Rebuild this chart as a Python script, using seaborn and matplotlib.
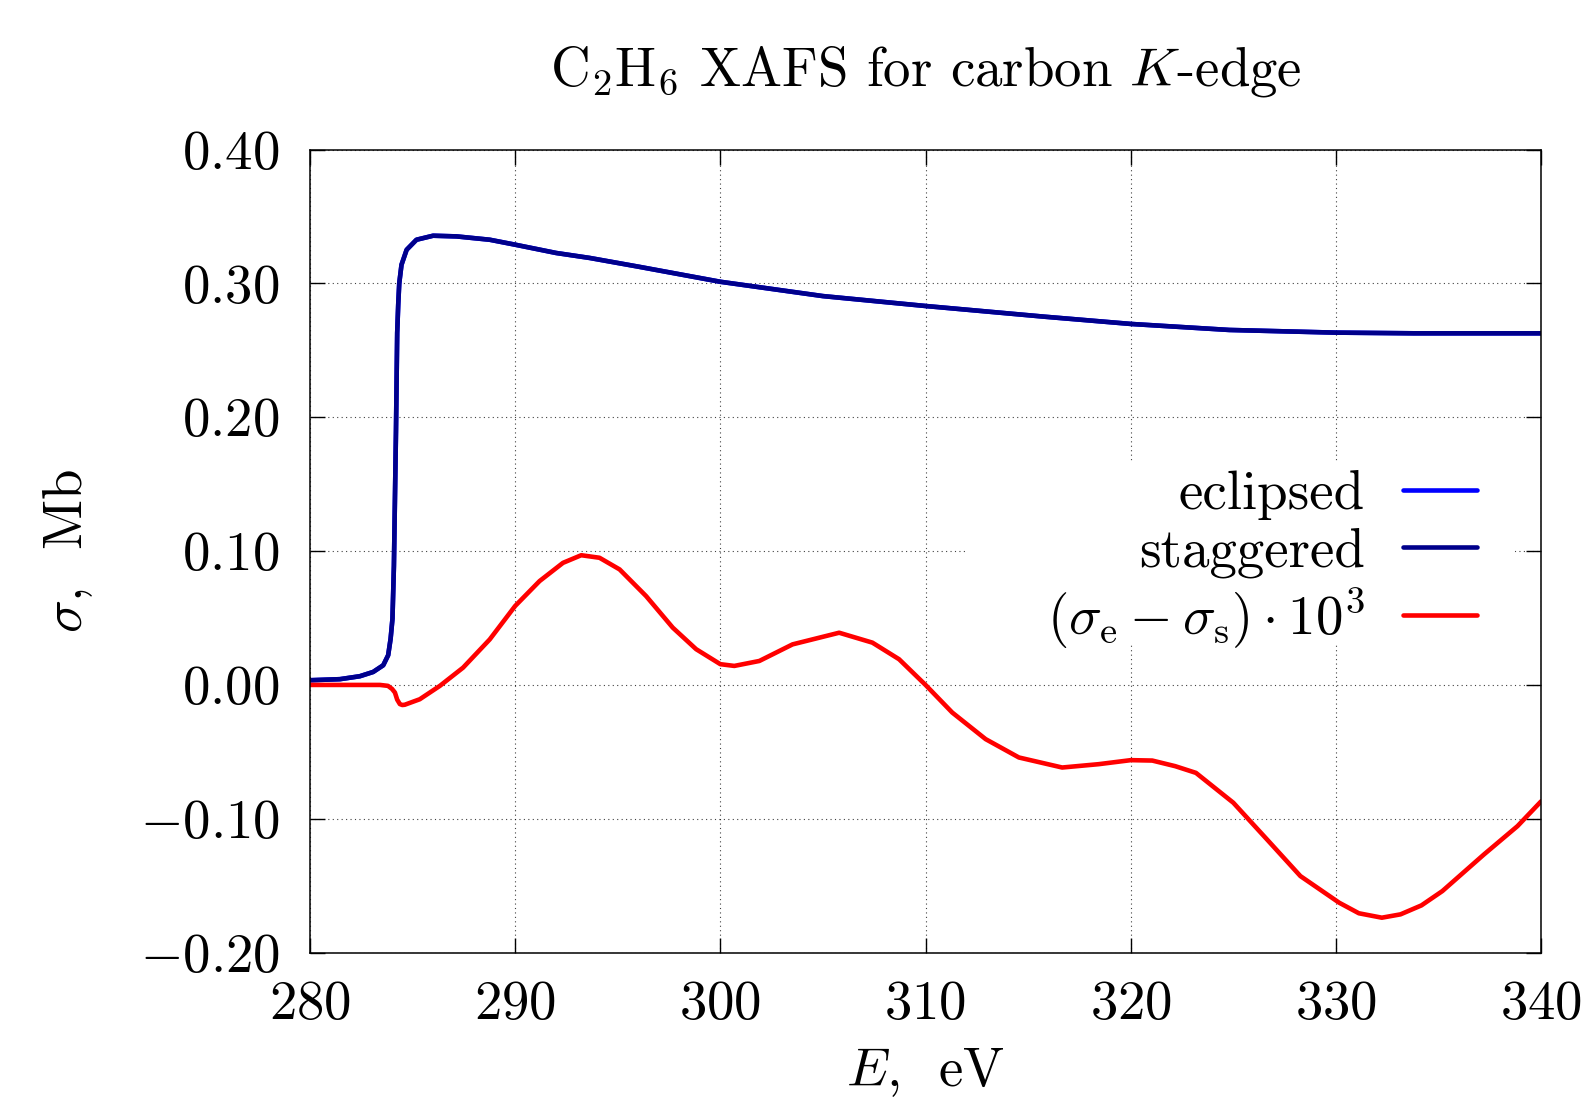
import matplotlib

matplotlib.use("Agg")
import matplotlib.pyplot as plt
import pandas as pd
import seaborn as sns
from matplotlib.patches import Rectangle

# staggered C2H6 cross-section, Mb
staggered_E = [280.0, 281.46, 282.43, 283.08, 283.57, 283.81, 283.93, 284.02, 284.09,
               284.19, 284.25, 284.3, 284.35, 284.46, 284.71, 285.19, 286.0, 287.14,
               288.76, 290.0, 292.0, 293.63, 296.0, 300.0, 305.0, 310.0, 315.8, 320.0,
               324.8, 330.0, 333.8, 340.0]
staggered_sigma = [0.0035, 0.0043, 0.0065, 0.0097, 0.0147, 0.0222, 0.0346, 0.0495, 0.0888,
                   0.1885, 0.263, 0.2841, 0.300, 0.3139, 0.3251, 0.3326, 0.3356, 0.3351,
                   0.3326, 0.3289, 0.3227, 0.319, 0.3125, 0.3012, 0.2905, 0.2831, 0.2751,
                   0.2697, 0.2652, 0.2632, 0.2627, 0.2627]

# eclipsed differs by ~1e-4 Mb, so on this scale it reads the same as staggered
eclipsed_E = list(staggered_E)
eclipsed_sigma = list(staggered_sigma)

# (sigma_e - sigma_s) * 10^3
diff_E = [280.0, 283.41, 283.8, 284.0, 284.14, 284.25, 284.38, 284.5, 284.62, 285.35,
          286.33, 287.46, 288.76, 290.0, 291.19, 292.33, 293.22, 294.11, 295.09, 296.38,
          297.68, 298.82, 300.0, 300.68, 301.9, 303.52, 305.79, 307.41, 308.71, 310.0,
          311.3, 312.93, 314.55, 316.66, 318.44, 320.0, 321.05, 322.17, 323.18, 325.0,
          326.64, 328.27, 330.16, 331.12, 332.24, 333.15, 334.17, 335.19, 337.22, 338.85,
          340.0]
diff_val = [0.0, 0.0, -0.0007, -0.003, -0.0057, -0.011, -0.0143, -0.015, -0.0148, -0.0107,
            -0.0007, 0.0129, 0.034, 0.059, 0.0776, 0.0912, 0.0969, 0.095, 0.0863, 0.0664,
            0.0428, 0.0267, 0.0155, 0.0142, 0.0179, 0.0303, 0.039, 0.0316, 0.0192, 0.0,
            -0.0206, -0.0405, -0.0542, -0.0617, -0.0592, -0.0562, -0.0565, -0.0607, -0.0657, -0.088,
            -0.1154, -0.1428, -0.1627, -0.1706, -0.1739, -0.1714, -0.1647, -0.154, -0.1266, -0.1055,
            -0.087]

x_ticks = [280, 290, 300, 310, 320, 330, 340]
y_ticks = [-0.20, -0.10, 0.00, 0.10, 0.20, 0.30, 0.40]
y_tick_labels = [r"$-0.20$", r"$-0.10$", r"$0.00$", r"$0.10$", r"$0.20$", r"$0.30$", r"$0.40$"]


def main() -> None:
    sns.set_style("ticks")
    plt.rcParams["font.family"] = "cmr10"
    plt.rcParams["mathtext.fontset"] = "cm"
    plt.rcParams["axes.formatter.use_mathtext"] = True
    plt.rcParams["axes.unicode_minus"] = False
    for key in ["text.color", "axes.labelcolor", "xtick.color", "ytick.color"]:
        plt.rcParams[key] = "black"

    fs = 39.5
    lw = 3.3
    fig = plt.figure(figsize=(15.84, 10.97), dpi=100)
    ax = fig.add_axes([0.1957, 0.1316, 0.9729 - 0.1957, 0.8637 - 0.1316])

    ecl = pd.DataFrame({"E": eclipsed_E, "sigma": eclipsed_sigma})
    stg = pd.DataFrame({"E": staggered_E, "sigma": staggered_sigma})
    dif = pd.DataFrame({"E": diff_E, "sigma": diff_val})

    sns.lineplot(data=ecl, x="E", y="sigma", ax=ax, color="#0000ff", lw=lw,
                 estimator=None, label="eclipsed")
    sns.lineplot(data=stg, x="E", y="sigma", ax=ax, color="#00008b", lw=lw,
                 estimator=None, label="staggered")
    sns.lineplot(data=dif, x="E", y="sigma", ax=ax, color="#ff0000", lw=lw,
                 estimator=None, label=r"$(\sigma_{\rm e} - \sigma_{\rm s}) \cdot 10^3$")

    ax.set_xlim(280, 340)
    ax.set_ylim(-0.20, 0.40)
    ax.set_xticks(x_ticks)
    ax.set_xticklabels([rf"${t}$" for t in x_ticks])
    ax.set_yticks(y_ticks)
    ax.set_yticklabels(y_tick_labels)

    ax.grid(True, linestyle=(0, (1, 3)), color="black", lw=0.8, alpha=0.75)
    ax.set_axisbelow(True)
    for s in ax.spines.values():
        s.set_visible(True)
        s.set_linewidth(1.1)
        s.set_color("black")
    ax.tick_params(direction="in", length=11, width=1.0, top=True, right=True,
                   labelsize=fs)
    ax.tick_params(axis="y", pad=22)
    ax.tick_params(axis="x", pad=20)

    ax.set_title(r"C$_2$H$_6$ XAFS for carbon $K$-edge", fontsize=fs, pad=46)
    ax.set_xlabel(r"$E$,  eV", fontsize=fs)
    ax.set_ylabel(r"$\sigma$,  Mb", fontsize=fs)
    ax.xaxis.set_label_coords(0.5, -0.117)
    ax.yaxis.set_label_coords(-0.175, 0.5)

    # white key box that blanks the grid behind the legend, as gnuplot does
    ax.add_patch(Rectangle((0.534, 0.386), 0.445, 0.224, transform=ax.transAxes,
                           facecolor="white", edgecolor="none", zorder=1))
    ax.legend(loc="upper right", bbox_to_anchor=(0.970, 0.635), fontsize=fs,
              markerfirst=False, frameon=False, handlelength=1.35, handletextpad=0.69,
              labelspacing=0.13, borderpad=0.0)

    fig.savefig("out.png", dpi=100)
    plt.close(fig)


if __name__ == "__main__":
    main()
